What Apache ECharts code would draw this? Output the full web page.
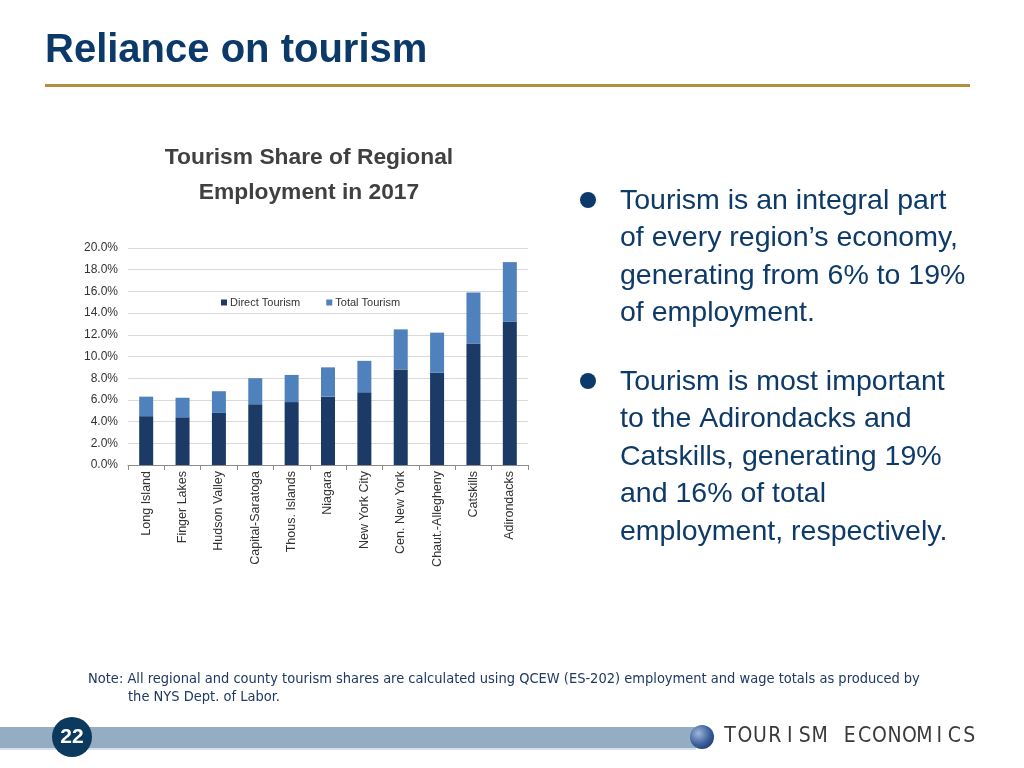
<!DOCTYPE html>
<html>
<head>
<meta charset="utf-8">
<script src="https://cdn.jsdelivr.net/npm/echarts@6/dist/echarts.min.js"></script>
<style>html,body{margin:0;padding:0;background:#fff}#c{width:1024px;height:768px}</style>
</head>
<body>
<div id="c"></div>
<script>
const categories = ['Long Island','Finger Lakes','Hudson Valley','Capital-Saratoga','Thous. Islands','Niagara','New York City','Cen. New York','Chaut.-Allegheny','Catskills','Adirondacks'];
const directTourism = [4.5, 4.4, 4.8, 5.6, 5.8, 6.3, 6.7, 8.8, 8.5, 11.2, 13.2];
const totalTourism = [6.3, 6.2, 6.8, 8.0, 8.3, 9.0, 9.6, 12.5, 12.2, 15.9, 18.7];
const yTicks = [0, 2, 4, 6, 8, 10, 12, 14, 16, 18, 20];
const seriesNames = ['Direct Tourism', 'Total Tourism'];

const indirectPart = totalTourism.map((t, i) => +(t - directTourism[i]).toFixed(2));

const chart = echarts.init(document.getElementById('c'), null, {renderer: 'canvas'});

const brand = 'TOURISM ECONOMICS';
const brandText = brand.split('').map((ch, i) => ({
  type: 'text', x: 730 + i * 14.95, y: 737,
  style: {text: ch, fill: '#3a3a3a', font: '21px "DejaVu Sans Condensed", "Liberation Sans", sans-serif', textAlign: 'center', textVerticalAlign: 'middle'}
}));

const bodyFont = '28.5px "Liberation Sans", Arial, sans-serif';
const bodyColor = '#0E3A6A';
const noteFont = '14.5px "DejaVu Sans Condensed", "Liberation Sans", sans-serif';

chart.setOption({
  animation: false,
  title: {
    text: 'Tourism Share of Regional\nEmployment in 2017',
    left: 304, top: 135, textAlign: 'center',
    textStyle: {fontFamily: '"Liberation Sans", Arial, sans-serif', fontWeight: 'bold', fontSize: 22.8, color: '#404040', lineHeight: 35}
  },
  legend: {
    data: seriesNames,
    left: 216, top: 292,
    itemWidth: 6, itemHeight: 6, itemGap: 26, icon: 'rect',
    textStyle: {fontFamily: '"Liberation Sans", Arial, sans-serif', fontSize: 11, color: '#333', padding: [0, 0, 0, -2]}
  },
  grid: {left: 128, right: 496, top: 248, bottom: 303, containLabel: false},
  xAxis: {
    type: 'category', data: categories,
    axisLine: {lineStyle: {color: '#8c8c8c', width: 1}},
    axisTick: {show: true, alignWithLabel: false, length: 5, lineStyle: {color: '#8c8c8c'}},
    axisLabel: {rotate: 90, interval: 0, fontFamily: '"Liberation Sans", Arial, sans-serif', fontSize: 12.5, color: '#333', margin: 6}
  },
  yAxis: {
    type: 'value', min: 0, max: 20, interval: 2,
    axisLine: {show: false}, axisTick: {show: false},
    splitLine: {lineStyle: {color: '#d9d9d9', width: 1}},
    axisLabel: {formatter: v => yTicks.includes(v) ? v.toFixed(1) + '%' : '', fontFamily: '"Liberation Sans", Arial, sans-serif', fontSize: 12, color: '#333', margin: 10}
  },
  series: [
    {name: seriesNames[0], type: 'bar', stack: 'a', data: directTourism, barWidth: 14, itemStyle: {color: '#1B3A66'}},
    {name: seriesNames[1], type: 'bar', stack: 'a', data: indirectPart, barWidth: 14, itemStyle: {color: '#4F81BD'}}
  ],
  graphic: [
    {type: 'text', x: 45, y: 51, style: {text: 'Reliance on tourism', fill: '#0B3A6A', font: 'bold 40px "Liberation Sans", Arial, sans-serif', textVerticalAlign: 'middle'}},
    {type: 'rect', shape: {x: 45, y: 84, width: 925, height: 3}, style: {fill: '#B28F3C'}},
    {type: 'circle', shape: {cx: 588, cy: 200, r: 8}, style: {fill: '#0B3A6A'}},
    {type: 'text', x: 620, y: 182, style: {text: 'Tourism is an integral part\nof every region\u2019s economy,\ngenerating from 6% to 19%\nof employment.', fill: bodyColor, font: bodyFont, lineHeight: 37.6}},
    {type: 'circle', shape: {cx: 588, cy: 381, r: 8}, style: {fill: '#0B3A6A'}},
    {type: 'text', x: 620, y: 363, style: {text: 'Tourism is most important\nto the Adirondacks and\nCatskills, generating 19%\nand 16% of total\nemployment, respectively.', fill: bodyColor, font: bodyFont, lineHeight: 37.6}},
    {type: 'text', x: 88, y: 679, style: {text: 'Note: All regional and county tourism shares are calculated using QCEW (ES-202) employment and wage totals as produced by', fill: '#1F3864', font: noteFont, textVerticalAlign: 'middle'}},
    {type: 'text', x: 128, y: 697, style: {text: 'the NYS Dept. of Labor.', fill: '#1F3864', font: noteFont, textVerticalAlign: 'middle'}},
    {type: 'rect', shape: {x: 0, y: 727, width: 696, height: 21}, style: {fill: '#95ADC3'}},
    {type: 'rect', shape: {x: 0, y: 748, width: 696, height: 2}, style: {fill: '#D5E0EA'}},
    {type: 'circle', shape: {cx: 72, cy: 737, r: 20}, style: {fill: '#0B3A5E'}},
    {type: 'text', x: 72, y: 737, style: {text: '22', fill: '#fff', font: 'bold 21px "Liberation Sans", sans-serif', textAlign: 'center', textVerticalAlign: 'middle'}},
    {type: 'circle', shape: {cx: 702, cy: 737, r: 12}, style: {fill: new echarts.graphic.RadialGradient(0.35, 0.35, 0.8, [{offset: 0, color: '#9fb6d8'}, {offset: 0.6, color: '#3b5f9a'}, {offset: 1, color: '#1d3766'}])}},
    ...brandText
  ]
});
</script>
</body>
</html>
